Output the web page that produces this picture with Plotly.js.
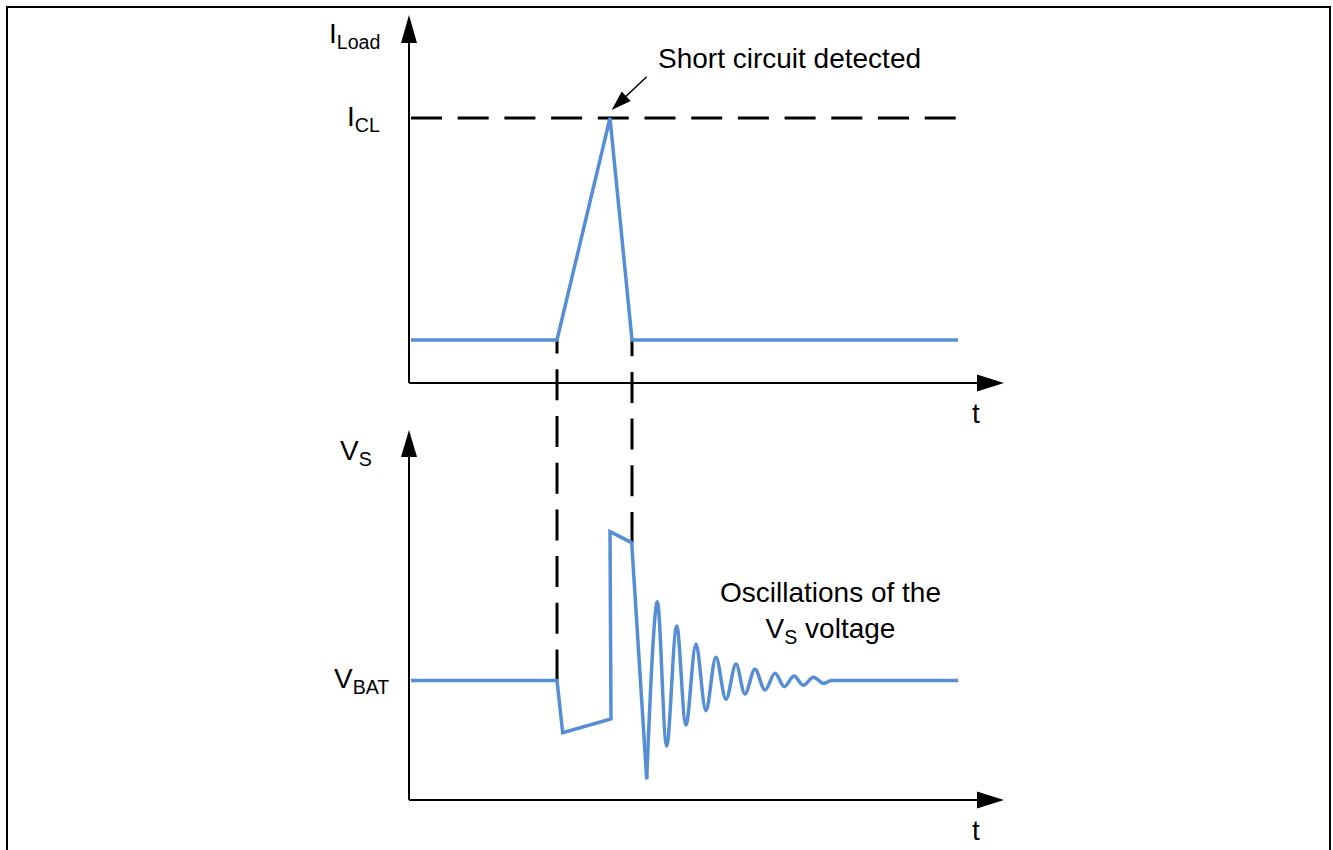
<!DOCTYPE html>
<html><head><meta charset="utf-8">
<script src="https://cdn.plot.ly/plotly-3.0.1.min.js"></script>
<style>html,body{margin:0;padding:0;background:#fff;} #chart{width:1333px;height:850px;}</style>
</head><body><div id="chart"></div>
<script>
// ---- data (time in arbitrary units, t = 0 at the origin) ----
const t_load = [0.2, 14.8, 20.1, 22.3, 54.9];
const i_load = [4.3, 4.3, 26.5, 4.3, 4.3];
const I_CL = 26.5;
const V_BAT = 11.95;
const t_detect = 14.8;     // start of the current rise
const t_cutoff = 22.3;     // current back to normal
const t_pulse = [0.2, 14.8, 15.37, 20.2, 20.1, 22.27, 23.77];
const v_pulse = [V_BAT, V_BAT, 6.73, 8.1, 26.83, 25.73, 2.07];
const t_ring = [23.77, 24.83, 25.77, 26.77, 27.7, 28.7, 29.7, 30.7, 31.7, 32.7, 33.6, 34.6, 35.6, 36.6, 37.53, 38.5, 39.43, 40.43, 41.43, 42.1];
const v_ring = [2.07, 19.83, 5.4, 17.4, 7.5, 15.6, 8.93, 14.27, 10.07, 13.6, 10.6, 13.07, 11.0, 12.67, 11.33, 12.4, 11.47, 12.27, 11.67, V_BAT];
const t_tail = [42.1, 54.9];
const v_tail = [V_BAT, V_BAT];

const BLUE = '#558ED5';
const FONT = 'Liberation Sans, Arial, sans-serif';

// 1 data unit = 10 px on every axis (ranges below are chosen that way)
function tri(xt, yt, dxp, dyp, len, hw, yref) {
  // tip at (xt,yt) data; (dxp,dyp) pixel direction from tip toward base (y down)
  const n = Math.hypot(dxp, dyp); const ux = dxp / n, uy = dyp / n;
  const bx = ux * len, by = uy * len;
  const px = -uy * hw, py = ux * hw;
  const P = (ox, oy) => (xt + ox / 10).toFixed(3) + ',' + (yt - oy / 10).toFixed(3);
  return {type: 'path', xref: 'x', yref: yref, fillcolor: 'black', line: {width: 0},
    path: 'M' + P(0, 0) + 'L' + P(bx + px, by + py) + 'L' + P(bx - px, by - py) + 'Z'};
}
const ax = {color: 'black', width: 2};
const dash = {color: 'black', width: 3, dash: '31px,15.7px'};

const shapes = [
  {type: 'rect', xref: 'paper', yref: 'paper', x0: 7 / 1333, x1: 1330 / 1333, y0: -0.2, y1: 1 - 7 / 850, line: {color: 'black', width: 2}},
  {type: 'line', xref: 'x', yref: 'y', x0: 0.2, x1: 55.1, y0: I_CL, y1: I_CL, line: dash, layer: 'below'},
  {type: 'line', xref: 'x', yref: 'y2', x0: t_detect, x1: t_detect, y0: V_BAT, y1: 46.0, line: dash, layer: 'below'},
  {type: 'line', xref: 'x', yref: 'y2', x0: t_cutoff, x1: t_cutoff, y0: 25.7, y1: 46.0, line: dash, layer: 'below'},
  {type: 'line', xref: 'x', yref: 'y', x0: 0, x1: 0, y0: 0, y1: 34.2, line: ax},
  {type: 'line', xref: 'x', yref: 'y', x0: 0, x1: 57, y0: 0, y1: 0, line: ax},
  {type: 'line', xref: 'x', yref: 'y2', x0: 0, x1: 0, y0: 0, y1: 34.6, line: ax},
  {type: 'line', xref: 'x', yref: 'y2', x0: 0, x1: 57, y0: 0, y1: 0, line: ax},
  tri(0, 36.8, 0, 1, 28, 8, 'y'),
  tri(59.5, 0, -1, 0, 27, 8.5, 'y'),
  tri(0, 37.0, 0, 1, 27, 8, 'y2'),
  tri(59.5, 0, -1, 0, 27, 8.5, 'y2'),
  {type: 'line', xref: 'x', yref: 'y', x0: 23.77, x1: 21.3, y0: 30.63, y1: 28.3, line: {color: 'black', width: 1.5}},
  tri(20.27, 27.3, 35, -33.3, 20, 6.5, 'y')
];

const txt = (s, x, y, yref, opts) => Object.assign({text: s, x: x, y: y, xref: 'x', yref: yref, showarrow: false,
  font: {family: FONT, size: 28, color: 'black'}}, opts || {});
const annotations = [
  txt('I<sub>Load</sub>', -2.7, 34.8, 'y', {xanchor: 'right', yanchor: 'middle'}),
  txt('I<sub>CL</sub>', -2.7, I_CL, 'y', {xanchor: 'right', yanchor: 'middle'}),
  txt('t', 56.7, -3.0, 'y', {xanchor: 'center', yanchor: 'middle'}),
  txt('Short circuit detected', 38.0, 32.5, 'y', {xanchor: 'center', yanchor: 'middle'}),
  txt('V<sub>S</sub>', -3.5, 34.8, 'y2', {xanchor: 'right', yanchor: 'middle'}),
  txt('V<sub>BAT</sub>', -1.8, V_BAT, 'y2', {xanchor: 'right', yanchor: 'middle'}),
  txt('t', 56.7, -3.0, 'y2', {xanchor: 'center', yanchor: 'middle'}),
  txt('Oscillations of the<br>V<sub>S</sub> voltage', 42.1, 18.8, 'y2', {xanchor: 'center', yanchor: 'middle'})
];

const line = {color: BLUE, width: 3.5};
const traces = [
  {x: t_load, y: i_load, xaxis: 'x', yaxis: 'y', mode: 'lines', line: line, hoverinfo: 'skip', showlegend: false},
  {x: t_pulse, y: v_pulse, xaxis: 'x', yaxis: 'y2', mode: 'lines', line: line, hoverinfo: 'skip', showlegend: false},
  {x: t_ring, y: v_ring, xaxis: 'x', yaxis: 'y2', mode: 'lines', line: Object.assign({shape: 'spline', smoothing: 1}, line), hoverinfo: 'skip', showlegend: false},
  {x: t_tail, y: v_tail, xaxis: 'x', yaxis: 'y2', mode: 'lines', line: line, hoverinfo: 'skip', showlegend: false}
];

const layout = {
  width: 1333, height: 850, autosize: false,
  margin: {l: 0, r: 0, t: 0, b: 0, pad: 0},
  paper_bgcolor: 'white', plot_bgcolor: 'rgba(0,0,0,0)',
  xaxis: {range: [-40.9, 92.4], visible: false, fixedrange: true},
  yaxis: {range: [-46.7, 38.3], visible: false, fixedrange: true},
  yaxis2: {range: [-5, 80], visible: false, overlaying: 'y', fixedrange: true},
  shapes: shapes, annotations: annotations, showlegend: false
};
Plotly.newPlot('chart', traces, layout, {staticPlot: true, displayModeBar: false});
</script></body></html>
